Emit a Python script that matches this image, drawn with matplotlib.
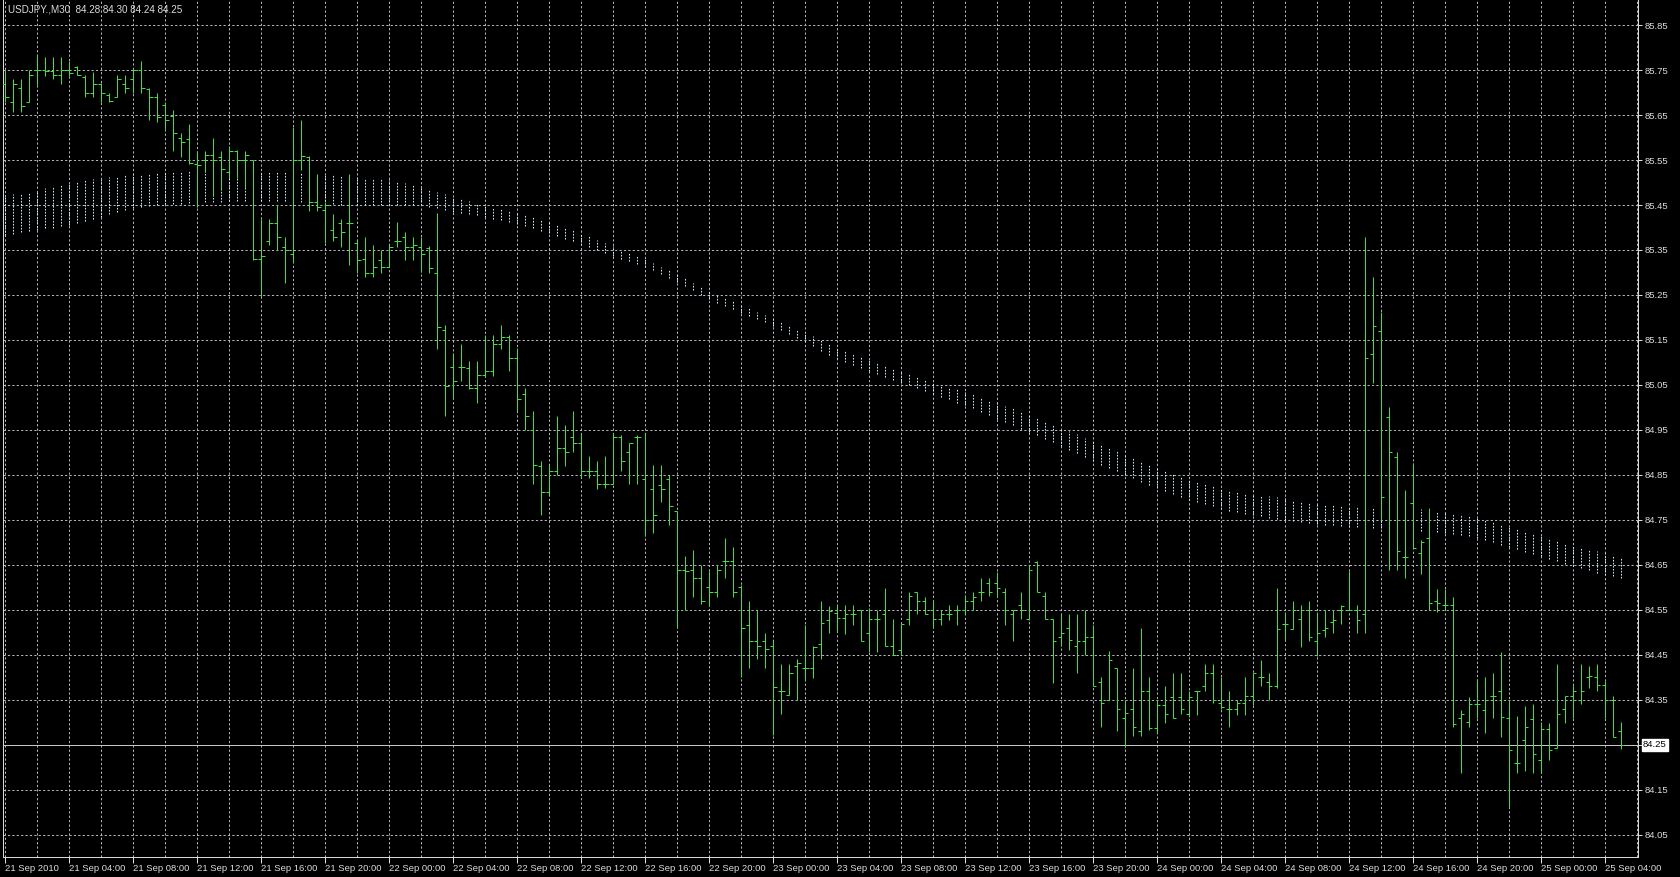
import numpy as np
import matplotlib
matplotlib.use("Agg")
import matplotlib.pyplot as plt

plt.rcParams["font.family"] = ["Liberation Sans", "DejaVu Sans"]

# USDJPY M30 bars, 21 Sep 2010 00:00 onwards (one bar every 30 minutes)
opens = [85.72, 85.68, 85.71, 85.68, 85.75, 85.75, 85.747, 85.739, 85.75, 85.757,
         85.735, 85.698, 85.72, 85.694, 85.689, 85.72, 85.729, 85.75, 85.707, 85.689,
         85.672, 85.648, 85.60, 85.597, 85.541, 85.55, 85.561, 85.557, 85.524, 85.569,
         85.55, 85.55, 85.331, 85.37, 85.409, 85.357, 85.34, 85.55, 85.557, 85.457,
         85.44, 85.394, 85.409, 85.409, 85.365, 85.331, 85.298, 85.328, 85.313, 85.37,
         85.38, 85.357, 85.357, 85.355, 85.298, 85.172, 85.091, 85.091, 85.087, 85.043,
         85.072, 85.08, 85.14, 85.156, 85.11, 85.03, 84.951, 84.869, 84.812, 84.858,
         84.911, 84.934, 84.92, 84.858, 84.858, 84.831, 84.831, 84.934, 84.90, 84.934,
         84.842, 84.819, 84.827, 84.842, 84.77, 84.639, 84.639, 84.62, 84.601, 84.59,
         84.659, 84.659, 84.601, 84.517, 84.482, 84.482, 84.471, 84.371, 84.36, 84.425,
         84.421, 84.421, 84.475, 84.528, 84.544, 84.532, 84.54, 84.55, 84.498, 84.529,
         84.541, 84.47, 84.461, 84.529, 84.589, 84.569, 84.55, 84.529, 84.541, 84.55,
         84.55, 84.569, 84.589, 84.609, 84.609, 84.591, 84.541, 84.561, 84.529, 84.657,
         84.58, 84.529, 84.489, 84.509, 84.47, 84.48, 84.489, 84.391, 84.35, 84.42,
         84.309, 84.329, 84.28, 84.369, 84.287, 84.339, 84.357, 84.357, 84.319, 84.369,
         84.38, 84.409, 84.343, 84.329, 84.329, 84.343, 84.359, 84.402, 84.389, 84.38,
         84.519, 84.508, 84.531, 84.55, 84.481, 84.506, 84.523, 84.55, 84.55, 84.55,
         84.541, 85.119, 85.17, 84.978, 84.889, 84.668, 84.787, 84.677, 84.711, 84.571,
         84.562, 84.562, 84.311, 84.302, 84.34, 84.328, 84.358, 84.369, 84.311, 84.209,
         84.26, 84.307, 84.217, 84.285, 84.243, 84.33, 84.358, 84.35, 84.40, 84.40,
         84.383, 84.35, 84.28]
highs = [85.75, 85.73, 85.731, 85.75, 85.783, 85.78, 85.78, 85.78, 85.769, 85.76,
         85.739, 85.745, 85.722, 85.698, 85.739, 85.739, 85.754, 85.769, 85.709, 85.698,
         85.68, 85.661, 85.609, 85.63, 85.569, 85.569, 85.598, 85.569, 85.581, 85.572,
         85.571, 85.55, 85.42, 85.418, 85.449, 85.38, 85.623, 85.639, 85.559, 85.52,
         85.457, 85.431, 85.42, 85.52, 85.372, 85.38, 85.361, 85.35, 85.361, 85.413,
         85.389, 85.38, 85.38, 85.359, 85.432, 85.183, 85.122, 85.141, 85.103, 85.103,
         85.16, 85.16, 85.183, 85.16, 85.132, 85.043, 84.992, 84.881, 84.873, 84.982,
         84.961, 84.992, 84.943, 84.892, 84.881, 84.892, 84.943, 84.938, 84.92, 84.938,
         84.943, 84.873, 84.873, 84.85, 84.77, 84.67, 84.683, 84.651, 84.636, 84.649,
         84.711, 84.689, 84.605, 84.571, 84.55, 84.498, 84.481, 84.429, 84.429, 84.44,
         84.517, 84.471, 84.571, 84.559, 84.561, 84.561, 84.561, 84.55, 84.555, 84.55,
         84.598, 84.529, 84.519, 84.591, 84.589, 84.578, 84.569, 84.55, 84.561, 84.561,
         84.583, 84.591, 84.62, 84.62, 84.634, 84.598, 84.55, 84.591, 84.65, 84.659,
         84.589, 84.529, 84.541, 84.541, 84.541, 84.55, 84.517, 84.40, 84.459, 84.42,
         84.35, 84.42, 84.509, 84.402, 84.35, 84.38, 84.409, 84.409, 84.369, 84.369,
         84.43, 84.43, 84.402, 84.369, 84.35, 84.402, 84.409, 84.439, 84.409, 84.598,
         84.545, 84.571, 84.562, 84.571, 84.545, 84.55, 84.55, 84.562, 84.636, 84.562,
         85.378, 85.289, 85.212, 85.0, 84.902, 84.817, 84.876, 84.706, 84.777, 84.596,
         84.596, 84.579, 84.328, 84.357, 84.396, 84.40, 84.409, 84.457, 84.35, 84.315,
         84.336, 84.34, 84.302, 84.298, 84.43, 84.358, 84.383, 84.43, 84.426, 84.43,
         84.392, 84.358, 84.30]
lows = [85.68, 85.657, 85.657, 85.68, 85.717, 85.737, 85.729, 85.718, 85.737, 85.739,
        85.689, 85.69, 85.68, 85.68, 85.689, 85.698, 85.698, 85.698, 85.639, 85.635,
        85.618, 85.569, 85.557, 85.541, 85.446, 85.524, 85.469, 85.483, 85.513, 85.511,
        85.487, 85.328, 85.246, 85.361, 85.349, 85.276, 85.324, 85.528, 85.437, 85.437,
        85.365, 85.369, 85.357, 85.317, 85.298, 85.289, 85.291, 85.298, 85.313, 85.357,
        85.328, 85.328, 85.30, 85.298, 85.13, 84.982, 85.018, 85.058, 85.042, 85.011,
        85.068, 85.07, 85.13, 85.08, 84.992, 84.951, 84.829, 84.76, 84.806, 84.85,
        84.869, 84.90, 84.846, 84.844, 84.819, 84.821, 84.829, 84.858, 84.829, 84.829,
        84.714, 84.72, 84.789, 84.739, 84.509, 84.551, 84.578, 84.563, 84.559, 84.578,
        84.622, 84.578, 84.402, 84.421, 84.44, 84.421, 84.272, 84.318, 84.36, 84.351,
        84.394, 84.398, 84.44, 84.498, 84.502, 84.497, 84.517, 84.48, 84.457, 84.457,
        84.47, 84.45, 84.45, 84.517, 84.541, 84.541, 84.509, 84.517, 84.528, 84.517,
        84.541, 84.55, 84.569, 84.58, 84.578, 84.517, 84.48, 84.529, 84.528, 84.589,
        84.529, 84.387, 84.47, 84.461, 84.409, 84.45, 84.38, 84.291, 84.35, 84.28,
        84.246, 84.269, 84.269, 84.283, 84.276, 84.298, 84.309, 84.319, 84.313, 84.317,
        84.369, 84.343, 84.331, 84.291, 84.317, 84.317, 84.339, 84.38, 84.35, 84.377,
        84.483, 84.508, 84.468, 84.481, 84.447, 84.489, 84.498, 84.519, 84.55, 84.498,
        84.498, 85.055, 84.749, 84.638, 84.638, 84.621, 84.687, 84.63, 84.55, 84.545,
        84.55, 84.29, 84.188, 84.29, 84.311, 84.277, 84.311, 84.268, 84.112, 84.188,
        84.192, 84.188, 84.188, 84.217, 84.243, 84.298, 84.311, 84.34, 84.377, 84.371,
        84.311, 84.268, 84.24]
closes = [85.69, 85.72, 85.67, 85.74, 85.75, 85.747, 85.739, 85.75, 85.744, 85.739,
          85.698, 85.72, 85.698, 85.682, 85.729, 85.709, 85.75, 85.709, 85.689, 85.646,
          85.639, 85.609, 85.591, 85.543, 85.539, 85.561, 85.55, 85.531, 85.569, 85.55,
          85.561, 85.331, 85.337, 85.409, 85.38, 85.35, 85.55, 85.56, 85.457, 85.446,
          85.45, 85.38, 85.389, 85.41, 85.328, 85.298, 85.313, 85.313, 85.357, 85.369,
          85.357, 85.36, 85.34, 85.311, 85.179, 85.048, 85.058, 85.09, 85.043, 85.072,
          85.08, 85.14, 85.156, 85.11, 85.018, 84.982, 84.873, 84.812, 84.858, 84.911,
          84.90, 84.92, 84.858, 84.858, 84.831, 84.831, 84.934, 84.881, 84.92, 84.934,
          84.75, 84.762, 84.819, 84.781, 84.639, 84.636, 84.62, 84.571, 84.591, 84.639,
          84.659, 84.59, 84.509, 84.482, 84.471, 84.463, 84.379, 84.371, 84.41, 84.433,
          84.421, 84.467, 84.521, 84.547, 84.532, 84.54, 84.541, 84.482, 84.529, 84.529,
          84.47, 84.45, 84.519, 84.58, 84.569, 84.541, 84.529, 84.541, 84.541, 84.55,
          84.569, 84.578, 84.589, 84.589, 84.598, 84.55, 84.55, 84.55, 84.639, 84.589,
          84.529, 84.48, 84.498, 84.483, 84.48, 84.489, 84.38, 84.343, 84.439, 84.329,
          84.32, 84.291, 84.369, 84.287, 84.339, 84.319, 84.309, 84.329, 84.357, 84.369,
          84.409, 84.35, 84.335, 84.329, 84.343, 84.359, 84.409, 84.402, 84.38, 84.508,
          84.519, 84.55, 84.55, 84.489, 84.498, 84.51, 84.528, 84.559, 84.55, 84.528,
          85.11, 85.182, 84.80, 84.902, 84.681, 84.668, 84.687, 84.702, 84.566, 84.566,
          84.562, 84.296, 84.319, 84.34, 84.34, 84.35, 84.358, 84.312, 84.239, 84.209,
          84.29, 84.23, 84.285, 84.239, 84.319, 84.358, 84.369, 84.369, 84.404, 84.383,
          84.35, 84.268, 84.25]

# indicator band drawn on every bar (upper / lower edge)
band_upper = [85.472, 85.475, 85.477, 85.480, 85.482, 85.487, 85.491, 85.496,
              85.500, 85.503, 85.505, 85.508, 85.510, 85.512, 85.514, 85.516,
              85.518, 85.520, 85.522, 85.523, 85.525, 85.526, 85.526, 85.527,
              85.527, 85.527, 85.527, 85.526, 85.526, 85.526, 85.526, 85.525,
              85.525, 85.524, 85.524, 85.523, 85.522, 85.521, 85.520, 85.518,
              85.517, 85.516, 85.515, 85.513, 85.512, 85.510, 85.508, 85.507,
              85.505, 85.502, 85.499, 85.495, 85.492, 85.486, 85.480, 85.474,
              85.468, 85.463, 85.458, 85.452, 85.447, 85.444, 85.441, 85.438,
              85.435, 85.430, 85.424, 85.419, 85.413, 85.407, 85.401, 85.394,
              85.388, 85.381, 85.373, 85.366, 85.358, 85.351, 85.344, 85.337,
              85.330, 85.322, 85.313, 85.305, 85.296, 85.287, 85.277, 85.268,
              85.258, 85.251, 85.243, 85.236, 85.228, 85.221, 85.213, 85.206,
              85.198, 85.190, 85.182, 85.173, 85.165, 85.158, 85.150, 85.143,
              85.135, 85.128, 85.120, 85.113, 85.105, 85.099, 85.093, 85.086,
              85.080, 85.074, 85.068, 85.061, 85.055, 85.050, 85.045, 85.040,
              85.035, 85.029, 85.023, 85.016, 85.010, 85.004, 84.998, 84.991,
              84.985, 84.978, 84.970, 84.963, 84.955, 84.948, 84.940, 84.933,
              84.925, 84.918, 84.910, 84.903, 84.895, 84.888, 84.880, 84.873,
              84.865, 84.859, 84.853, 84.846, 84.840, 84.835, 84.830, 84.825,
              84.820, 84.817, 84.814, 84.811, 84.808, 84.806, 84.803, 84.801,
              84.798, 84.795, 84.793, 84.790, 84.787, 84.786, 84.784, 84.783,
              84.781, 84.780, 84.780, 84.779, 84.778, 84.778, 84.777, 84.777,
              84.776, 84.774, 84.772, 84.770, 84.768, 84.765, 84.761, 84.758,
              84.754, 84.750, 84.746, 84.741, 84.737, 84.732, 84.726, 84.721,
              84.715, 84.710, 84.705, 84.699, 84.694, 84.690, 84.685, 84.681,
              84.676, 84.672, 84.668]
band_lower = [85.383, 85.386, 85.389, 85.392, 85.395, 85.398, 85.400, 85.403,
              85.405, 85.410, 85.415, 85.419, 85.424, 85.429, 85.434, 85.438,
              85.443, 85.445, 85.447, 85.450, 85.452, 85.453, 85.453, 85.454,
              85.455, 85.456, 85.457, 85.457, 85.458, 85.459, 85.459, 85.460,
              85.460, 85.460, 85.459, 85.459, 85.458, 85.457, 85.455, 85.454,
              85.452, 85.452, 85.451, 85.451, 85.450, 85.450, 85.450, 85.450,
              85.450, 85.450, 85.450, 85.450, 85.450, 85.446, 85.443, 85.439,
              85.435, 85.432, 85.430, 85.427, 85.424, 85.420, 85.416, 85.412,
              85.408, 85.403, 85.398, 85.393, 85.388, 85.382, 85.375, 85.369,
              85.362, 85.356, 85.350, 85.343, 85.337, 85.331, 85.325, 85.319,
              85.313, 85.305, 85.296, 85.288, 85.279, 85.270, 85.260, 85.251,
              85.241, 85.233, 85.226, 85.218, 85.210, 85.203, 85.196, 85.189,
              85.182, 85.173, 85.164, 85.154, 85.145, 85.136, 85.126, 85.117,
              85.108, 85.101, 85.094, 85.087, 85.080, 85.074, 85.068, 85.061,
              85.055, 85.049, 85.043, 85.036, 85.030, 85.024, 85.018, 85.011,
              85.005, 84.998, 84.990, 84.983, 84.975, 84.968, 84.960, 84.953,
              84.945, 84.938, 84.930, 84.923, 84.915, 84.906, 84.898, 84.889,
              84.880, 84.873, 84.865, 84.858, 84.850, 84.843, 84.835, 84.828,
              84.820, 84.814, 84.808, 84.801, 84.795, 84.790, 84.785, 84.780,
              84.775, 84.771, 84.768, 84.764, 84.760, 84.758, 84.755, 84.753,
              84.750, 84.748, 84.745, 84.743, 84.740, 84.739, 84.738, 84.736,
              84.735, 84.734, 84.734, 84.733, 84.732, 84.731, 84.730, 84.728,
              84.727, 84.726, 84.724, 84.723, 84.721, 84.719, 84.716, 84.714,
              84.711, 84.706, 84.700, 84.695, 84.690, 84.685, 84.679, 84.674,
              84.669, 84.664, 84.658, 84.653, 84.648, 84.643, 84.638, 84.633,
              84.628, 84.625, 84.621]

time_labels = ["21 Sep 2010", "21 Sep 04:00", "21 Sep 08:00", "21 Sep 12:00", "21 Sep 16:00",
               "21 Sep 20:00", "22 Sep 00:00", "22 Sep 04:00", "22 Sep 08:00", "22 Sep 12:00",
               "22 Sep 16:00", "22 Sep 20:00", "23 Sep 00:00", "23 Sep 04:00", "23 Sep 08:00",
               "23 Sep 12:00", "23 Sep 16:00", "23 Sep 20:00", "24 Sep 00:00", "24 Sep 04:00",
               "24 Sep 08:00", "24 Sep 12:00", "24 Sep 16:00", "24 Sep 20:00", "25 Sep 00:00",
               "25 Sep 04:00"]
price_levels = [84.05, 84.15, 84.25, 84.35, 84.45, 84.55, 84.65, 84.75, 84.85, 84.95,
                85.05, 85.15, 85.25, 85.35, 85.45, 85.55, 85.65, 85.75, 85.85]
last_price = 84.25
title = "USDJPY.,M30  84.28 84.30 84.24 84.25"

bar_color = "#40e040"
grid_color = "#b4b4bc"
band_color = "#c2f0ff"
text_color = "#dcdcdc"
px = 0.72  # one pixel in points at dpi 100
fs = 6.8

W, H = 1680, 877
fig = plt.figure(figsize=(W / 100, H / 100), dpi=100, facecolor="black")
ax = fig.add_axes([3 / W, 20 / H, 1635 / W, 857 / H], facecolor="black")

n = len(opens)
idx = np.arange(n)

# dashed grid, every 4 bars and every 0.1
for gx in range(0, n + 2, 4):
    ax.axvline(gx, color=grid_color, lw=px, ls=(0, (2.2, 2.2)), zorder=1)
for gy in price_levels:
    ax.axhline(gy, color=grid_color, lw=px, ls=(0, (2.2, 2.2)), zorder=1)

# indicator band as dotted vertical strokes
ax.vlines(idx, band_lower, band_upper, colors=band_color, lw=px,
          linestyles=(0, (1.6, 1.4)), zorder=2)

# OHLC bars
ax.vlines(idx, lows, highs, colors=bar_color, lw=px, zorder=3)
ax.hlines(opens, idx - 0.4, idx, colors=bar_color, lw=px, zorder=3)
ax.hlines(closes, idx, idx + 0.4, colors=bar_color, lw=px, zorder=3)

# last price line
ax.axhline(last_price, color="#c4c4c4", lw=px, zorder=2)

ax.set_xlim(-0.3, 204.1)
ax.set_ylim(84.001, 85.9056)

for s in ["left", "bottom", "right"]:
    ax.spines[s].set_color("#d8d8d8")
    ax.spines[s].set_linewidth(px)
ax.spines["top"].set_visible(False)

# price scale on the right
ax.yaxis.tick_right()
ax.set_yticks(price_levels)
ax.set_yticklabels(["" if abs(p - last_price) < 1e-9 else "%.2f" % p for p in price_levels])
ax.tick_params(axis="y", colors=text_color, labelsize=fs, length=3, width=px, pad=2)
ax.text(1.0 + 5 / 1635, last_price, "%.2f" % last_price, transform=ax.get_yaxis_transform(),
        ha="left", va="center", fontsize=fs, color="black",
        bbox=dict(boxstyle="square,pad=0.15", fc="white", ec="white"))

# time scale
ax.set_xticks(np.arange(len(time_labels)) * 8)
ax.set_xticklabels(time_labels, ha="left")
ax.tick_params(axis="x", colors=text_color, labelsize=fs, length=4, width=px, pad=1)

fig.text(8 / W, 1 - 9 / H, title, color=text_color, fontsize=7.1, ha="left", va="center")

fig.savefig("out.png", dpi=100, facecolor="black")
